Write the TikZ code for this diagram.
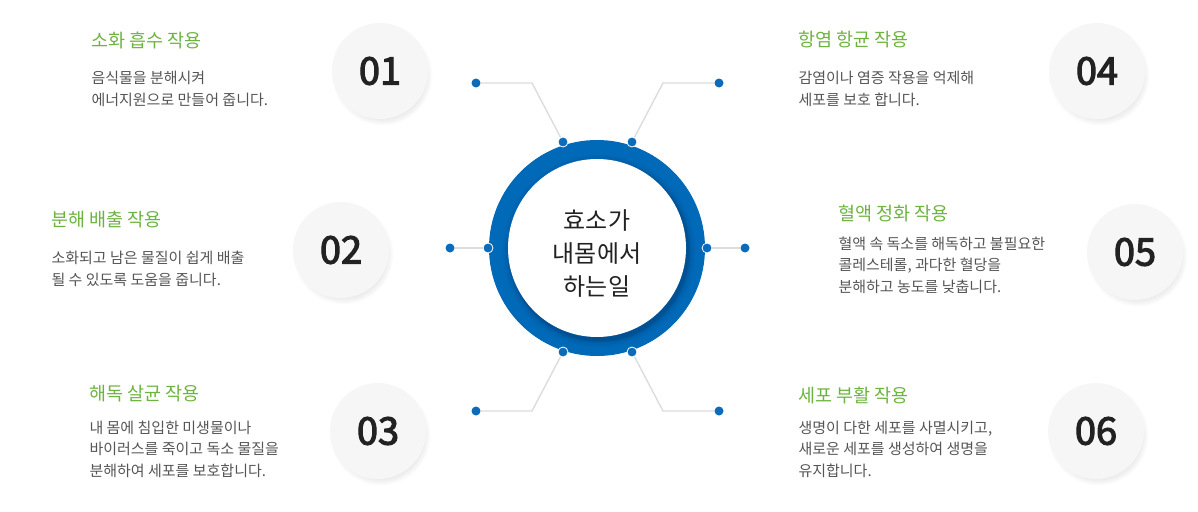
\documentclass[tikz,border=0pt]{standalone}
\usepackage{fontspec}
\setmainfont{Noto Sans CJK KR}
\newfontfamily\numfont[FakeBold=3]{Noto Sans CJK KR}
\usetikzlibrary{shadows}
\usepackage{xcolor}
\definecolor{ringblue}{HTML}{0069B8}
\definecolor{ringdark}{HTML}{003E78}
\definecolor{dotblue}{HTML}{0A6CBA}
\definecolor{linegray}{HTML}{DCDCDC}
\definecolor{numgray}{HTML}{F6F6F6}
\definecolor{numdark}{HTML}{222222}
\definecolor{titlegreen}{HTML}{6DB33F}
\definecolor{bodygray}{HTML}{555555}

\begin{document}
\begin{tikzpicture}[x=1pt,y=-1pt,
  dot/.style={circle, fill=dotblue, inner sep=0pt, minimum size=9pt},
  rdot/.style={circle, fill=dotblue, draw=white, line width=0.8pt, inner sep=0pt, minimum size=10pt},
  link/.style={draw=linegray, line width=1.4pt},
  numc/.style={circle, fill=numgray, inner sep=0pt, minimum size=96pt, text=numdark,
    font=\fontsize{38}{40}\numfont,
    circular drop shadow={shadow xshift=2pt, shadow yshift=-4pt, opacity=.16, shadow scale=1.05}},
  ttl/.style={anchor=west, text=titlegreen, font=\fontsize{18.5}{20}\selectfont},
  body/.style={anchor=west, align=left, text=bodygray, font=\fontsize{15}{21.5}\selectfont}]
\useasboundingbox (0,0) rectangle (1198,511);

% center ring
\fill[ringblue] (597,248) circle[radius=108pt];
\foreach \r/\o in {96/.08,94/.1,92/.14,91/.18,90/.22}
  \fill[ringdark, opacity=\o] (599,251) circle[radius=\r pt];
\node[circle, fill=white, inner sep=0pt, minimum size=178pt] (core) at (597,248) {};
\node[align=center, text=numdark, font=\fontsize{24}{33}\selectfont] (coretxt) at (597,254) {효소가\\내몸에서\\하는일};

% dots
\node[dot] (o1) at (476,83) {};
\node[dot] (o2) at (450,248) {};
\node[dot] (o3) at (476,411) {};
\node[dot] (o4) at (719,83) {};
\node[dot] (o5) at (745,248) {};
\node[dot] (o6) at (719,411) {};
\node[rdot] (r1) at (563,142) {};
\node[rdot] (r2) at (488,248) {};
\node[rdot] (r3) at (563,352) {};
\node[rdot] (r4) at (632,142) {};
\node[rdot] (r5) at (707,248) {};
\node[rdot] (r6) at (632,352) {};
\coordinate (e1) at (532,83);
\coordinate (e3) at (532,411);
\coordinate (e4) at (663,83);
\coordinate (e6) at (663,411);

\draw[link] (o1) -- (e1) -- (r1);
\draw[link] (o2) -- (r2);
\draw[link] (o3) -- (e3) -- (r3);
\draw[link] (o4) -- (e4) -- (r4);
\draw[link] (o5) -- (r5);
\draw[link] (o6) -- (e6) -- (r6);

% number circles
\node[numc] (n1) at (380,71) {01};
\node[numc] (n2) at (341,250) {02};
\node[numc] (n3) at (378,431) {03};
\node[numc] (n4) at (1097,71) {04};
\node[numc] (n5) at (1135,252) {05};
\node[numc] (n6) at (1096,431) {06};

% titles and texts
\node[ttl] (t1) at (88,40) {소화 흡수 작용};
\node[body] (b1) at (88,89) {음식물을 분해시켜\\에너지원으로 만들어 줍니다.};
\node[ttl] (t2) at (48,220) {분해 배출 작용};
\node[body] (b2) at (48,269) {소화되고 남은 물질이 쉽게 배출\\될 수 있도록 도움을 줍니다.};
\node[ttl] (t3) at (86,394) {해독 살균 작용};
\node[body] (b3) at (86,449) {내 몸에 침입한 미생물이나\\바이러스를 죽이고 독소 물질을\\분해하여 세포를 보호합니다.};
\node[ttl] (t4) at (795,40) {항염 항균 작용};
\node[body] (b4) at (795,89) {감염이나 염증 작용을 억제해\\세포를 보호 합니다.};
\node[ttl] (t5) at (835,213) {혈액 정화 작용};
\node[body] (b5) at (835,265) {혈액 속 독소를 해독하고 불필요한\\콜레스테롤, 과다한 혈당을\\분해하고 농도를 낮춥니다.};
\node[ttl] (t6) at (795,395) {세포 부활 작용};
\node[body] (b6) at (795,449) {생명이 다한 세포를 사멸시키고,\\새로운 세포를 생성하여 생명을\\유지합니다.};
\end{tikzpicture}
\end{document}
